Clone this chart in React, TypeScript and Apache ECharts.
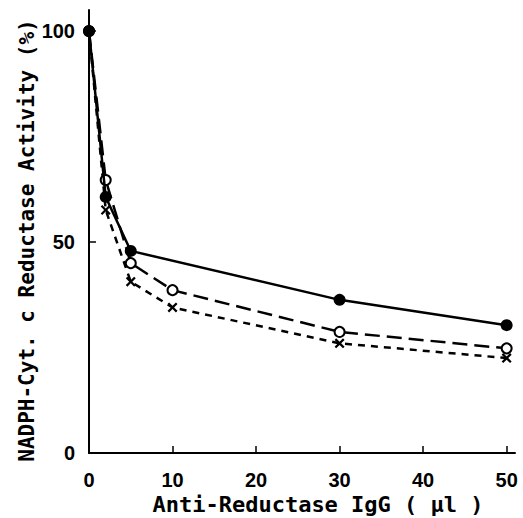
import React, { useEffect, useRef } from "react";
import * as echarts from "echarts";

const doseX = [0, 2, 5, 10, 30, 50];
const filledSeries: (number | null)[] = [100, 60.7, 47.9, null, 36.3, 30.3];
const openSeries: number[] = [100, 64.7, 45, 38.6, 28.7, 24.8];
const crossSeries: number[] = [100, 57.6, 40.6, 34.5, 26, 22.5];
const xTickLabels = [0, 10, 20, 30, 40, 50];
const yTickLabels = [0, 50, 100];

const xTitle = "Anti-Reductase IgG ( \u03bcl )";
const yTitle = "NADPH-Cyt. c Reductase Activity (%)";

const CROSS =
  "path://M0,1.6L1.6,0L5,3.4L8.4,0L10,1.6L6.6,5L10,8.4L8.4,10L5,6.6L1.6,10L0,8.4L3.4,5Z";

function pairs(ys: (number | null)[]) {
  return doseX
    .map((x, i) => [x, ys[i]])
    .filter((p) => p[1] !== null && p[1] !== undefined);
}

export default function App() {
  const ref = useRef<HTMLDivElement>(null);
  useEffect(() => {
    if (!ref.current) return;
    const chart = echarts.init(ref.current, null, { renderer: "svg" });
    const tickFont = {
      fontFamily: "Liberation Sans",
      fontWeight: "bold" as const,
      fontSize: 20,
      color: "#000",
    };
    const titleFont = {
      fontFamily: "DejaVu Sans Mono",
      fontWeight: "bold" as const,
      fontSize: 21,
      color: "#000",
    };
    chart.setOption({
      animation: false,
      backgroundColor: "#fff",
      grid: {
        left: 89,
        right: 8,
        top: 10,
        bottom: 65,
        containLabel: false,
        outerBoundsMode: "none",
      },
      xAxis: {
        type: "value",
        min: 0,
        max: 51,
        interval: 10,
        name: xTitle,
        nameLocation: "middle",
        nameGap: 41,
        nameMoveOverlap: false,
        nameTextStyle: {
          ...titleFont,
          fontSize: 22,
          lineHeight: 20,
          padding: [0, 0, 0, 32],
        },
        splitLine: { show: false },
        axisLine: { show: true, onZero: false, lineStyle: { color: "#000", width: 2 } },
        axisTick: {
          show: true,
          inside: true,
          length: 7,
          customValues: xTickLabels.filter((v) => v !== 0),
          lineStyle: { color: "#000", width: 1.5 },
        },
        axisLabel: {
          ...tickFont,
          lineHeight: 16,
          margin: 19,
          customValues: xTickLabels,
        },
      },
      yAxis: {
        type: "value",
        min: 0,
        max: 105,
        interval: 50,
        name: yTitle,
        nameLocation: "middle",
        nameGap: 52,
        nameMoveOverlap: false,
        nameTextStyle: { ...titleFont, padding: [0, 18, 0, 0] },
        splitLine: { show: false },
        axisLine: { show: true, onZero: false, lineStyle: { color: "#000", width: 2 } },
        axisTick: {
          show: true,
          inside: true,
          length: 7,
          customValues: [50, 100],
          lineStyle: { color: "#000", width: 1.5 },
        },
        axisLabel: {
          ...tickFont,
          margin: 14,
          customValues: yTickLabels,
          verticalAlign: "middle",
          verticalAlignMinLabel: "middle",
          verticalAlignMaxLabel: "middle",
          padding: [4, 0, 0, 0],
        },
      },
      series: [
        {
          type: "line",
          data: pairs(crossSeries),
          symbol: CROSS,
          symbolSize: 10,
          showSymbol: true,
          itemStyle: { color: "#000", borderWidth: 0 },
          lineStyle: { color: "#000", width: 2.5, type: [7, 6] },
          z: 2,
        },
        {
          type: "line",
          data: pairs(openSeries),
          symbol: "emptyCircle",
          symbolSize: 10,
          itemStyle: { color: "#000", borderColor: "#000", borderWidth: 2.2 },
          lineStyle: { color: "#000", width: 2.5, type: [15, 7] },
          z: 3,
        },
        {
          type: "line",
          data: pairs(filledSeries),
          symbol: "circle",
          symbolSize: 12,
          itemStyle: { color: "#000" },
          lineStyle: { color: "#000", width: 2.5 },
          z: 4,
        },
      ],
    });
    return () => chart.dispose();
  }, []);
  return (
    <div
      ref={ref}
      style={{ position: "absolute", left: 0, top: 0, width: 523, height: 518 }}
    />
  );
}
